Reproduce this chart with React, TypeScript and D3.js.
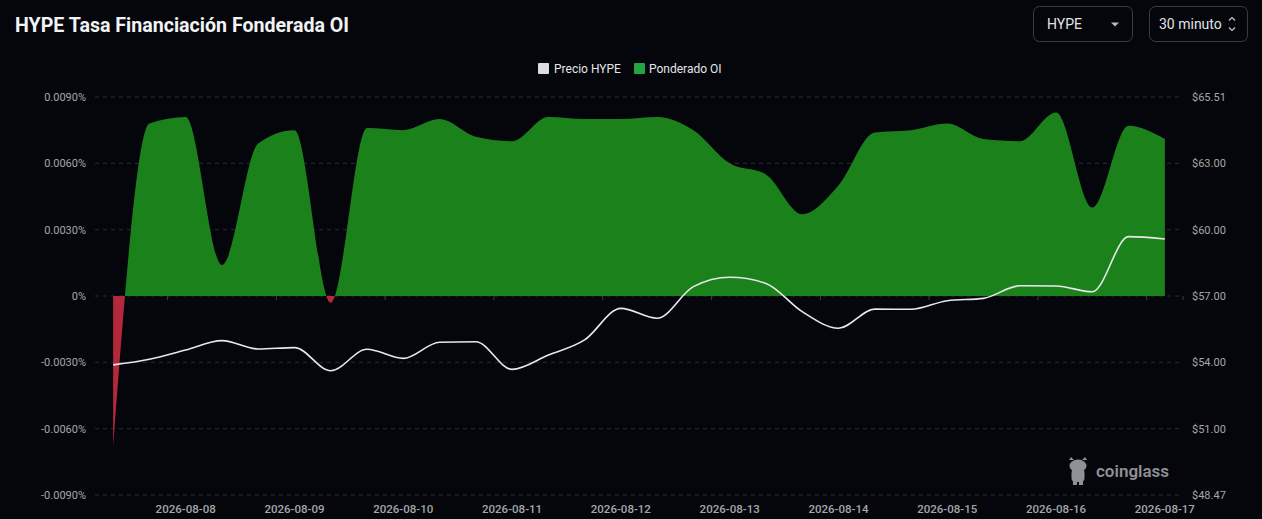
import React from 'react';
import * as d3 from 'd3';

// Data: 8-hour samples, 2026-08-07 08:00 -> 2026-08-17 00:00 (funding rate in %)
const startTime = new Date(2026, 7, 7, 8, 0);
const fundingRates = [
  -0.0068, 0.0078, 0.0081, 0.0014, 0.0069, 0.0075, -0.0003, 0.0076, 0.0075, 0.0080,
  0.0072, 0.0070, 0.0081, 0.0080, 0.0080, 0.0081, 0.0075, 0.0060, 0.0055, 0.0037,
  0.0050, 0.0074, 0.0075, 0.0078, 0.0071, 0.0070, 0.0083, 0.0040, 0.0077, 0.0071,
];
const prices = [
  54.04, 54.28, 54.68, 55.08, 54.72, 54.78, 53.79, 54.71, 54.32, 55.01,
  55.03, 53.85, 54.46, 55.11, 56.46, 56.04, 57.39, 57.79, 57.53, 56.32,
  55.61, 56.43, 56.42, 56.79, 56.89, 57.43, 57.42, 57.17, 59.53, 59.43,
];
const leftTicks = [-0.009, -0.006, -0.003, 0, 0.003, 0.006, 0.009];
const rightLabels = ['$48.47', '$51.00', '$54.00', '$57.00', '$60.00', '$63.00', '$65.51'];
const priceDomain: [number, number] = [48.47, 65.51];

const W = 1262;
const H = 519;
const plot = { left: 95, right: 1183, top: 97, bottom: 495 };

const BG = '#04060b';
const GREEN = '#1b811b';
const RED = '#b3283a';
const GRID = '#2a2d33';
const AXIS_TEXT = '#a4a6aa';
const FONT = 'Roboto, "Noto Sans", sans-serif';

const times = fundingRates.map((_, i) => d3.timeHour.offset(startTime, i * 8));
const fmtDate = d3.timeFormat('%Y-%m-%d');
const fmtRate = (v: number) => (v === 0 ? '0%' : `${v.toFixed(4)}%`);

export default function App() {
  const x = d3
    .scaleBand<number>()
    .domain(d3.range(fundingRates.length))
    .range([plot.left, plot.right])
    .padding(0);
  const cx = (i: number) => (x(i) ?? 0) + x.bandwidth() / 2;
  const yL = d3.scaleLinear().domain([-0.009, 0.009]).range([plot.bottom, plot.top]);
  const yR = d3.scaleLinear().domain(priceDomain).range([plot.bottom, plot.top]);

  const area = d3
    .area<number>()
    .x((_, i) => cx(i))
    .y0(yL(0))
    .y1((d) => yL(d))
    .curve(d3.curveMonotoneX);

  const line = d3
    .line<number>()
    .x((_, i) => cx(i))
    .y((d) => yR(d))
    .curve(d3.curveMonotoneX);

  // midnight categories carry a date label
  const dayIdx = times.map((t, i) => (t.getHours() === 0 ? i : -1)).filter((i) => i >= 0);
  const zeroY = yL(0);
  const zeroOffset = (zeroY - plot.top) / (plot.bottom - plot.top);

  return (
    <div style={{ position: 'absolute', left: 0, top: 0 }}>
      <svg width={W} height={H} style={{ display: 'block', fontFamily: FONT }}>
        <defs>
          <linearGradient id="signFill" gradientUnits="userSpaceOnUse" x1="0" y1={plot.top} x2="0" y2={plot.bottom}>
            <stop offset="0" stopColor={GREEN} />
            <stop offset={zeroOffset} stopColor={GREEN} />
            <stop offset={zeroOffset} stopColor={RED} />
            <stop offset="1" stopColor={RED} />
          </linearGradient>
        </defs>
        <rect width={W} height={H} fill={BG} />

        {/* title */}
        <text x={15} y={32} fill="#f2f3f5" fontSize={19.6} fontWeight={700}>
          HYPE Tasa Financiación Fonderada OI
        </text>

        {/* controls */}
        <g>
          <rect x={1033.5} y={6.5} width={99} height={35} rx={6} fill="none" stroke="#3a3d44" />
          <text x={1047} y={29} fill="#e2e3e6" fontSize={14}>HYPE</text>
          <path d="M1111,22.5 L1119,22.5 L1115,26.5 Z" fill="#b9bbc0" />
          <rect x={1149.5} y={6.5} width={98} height={35} rx={6} fill="none" stroke="#3a3d44" />
          <text x={1159} y={29} fill="#e2e3e6" fontSize={14}>30 minuto</text>
          <path d="M1229,20.5 L1232,17.5 L1235,20.5 M1229,27.5 L1232,30.5 L1235,27.5" fill="none" stroke="#c4c6ca" strokeWidth={1.2} />
        </g>

        {/* legend */}
        <g fontSize={12} fill="#e4e5e8">
          <rect x={538} y={63} width={11} height={11} rx={1} fill="#dcdce0" />
          <text x={554} y={73}>Precio HYPE</text>
          <rect x={634} y={63} width={11} height={11} rx={1} fill="#22a542" />
          <text x={649} y={73}>Ponderado OI</text>
        </g>

        {/* grid */}
        {leftTicks.map((t) => (
          <line
            key={t}
            x1={plot.left}
            x2={plot.right}
            y1={yL(t)}
            y2={yL(t)}
            stroke={GRID}
            strokeDasharray="4,4"
          />
        ))}

        {/* left axis */}
        {leftTicks.map((t) => (
          <text key={t} x={86} y={yL(t) + 4} textAnchor="end" fill={AXIS_TEXT} fontSize={11}>
            {fmtRate(t)}
          </text>
        ))}

        {/* right axis: labels sit on the shared split lines */}
        {leftTicks.map((t, i) => (
          <text key={t} x={1192} y={yL(t) + 4} fill={AXIS_TEXT} fontSize={11}>
            {rightLabels[i]}
          </text>
        ))}

        {/* funding area */}
        <path d={area(fundingRates) ?? ''} fill="url(#signFill)" />

        {/* price line */}
        <path d={line(prices) ?? ''} fill="none" stroke="#e8e8ea" strokeWidth={1.6} />

        {/* x axis ticks on zero line, labels at bottom */}
        {dayIdx.map((i) => (
          <line key={i} x1={x(i)} x2={x(i)} y1={zeroY} y2={zeroY + 4} stroke="#3a3d44" />
        ))}
        <line x1={plot.right} x2={plot.right} y1={zeroY} y2={zeroY + 4} stroke="#3a3d44" />
        {dayIdx.map((i) => (
          <text key={i} x={cx(i)} y={513} textAnchor="middle" fill={AXIS_TEXT} fontSize={11.5} fontWeight={500}>
            {fmtDate(times[i])}
          </text>
        ))}

        {/* watermark */}
        <g fill="#8e9095">
          <ellipse cx={1078} cy={466} rx={8.5} ry={6.5} />
          <path d="M1069,460 L1071,457 L1074,460 Z M1082,460 L1085,457 L1087,460 Z" />
          <rect x={1071.5} y={469} width={13} height={13} rx={4} />
          <rect x={1073} y={480} width={4} height={5} />
          <rect x={1079} y={480} width={4} height={5} />
          <text x={1096} y={477} fontSize={17} fontWeight={600}>coinglass</text>
        </g>
      </svg>
    </div>
  );
}
